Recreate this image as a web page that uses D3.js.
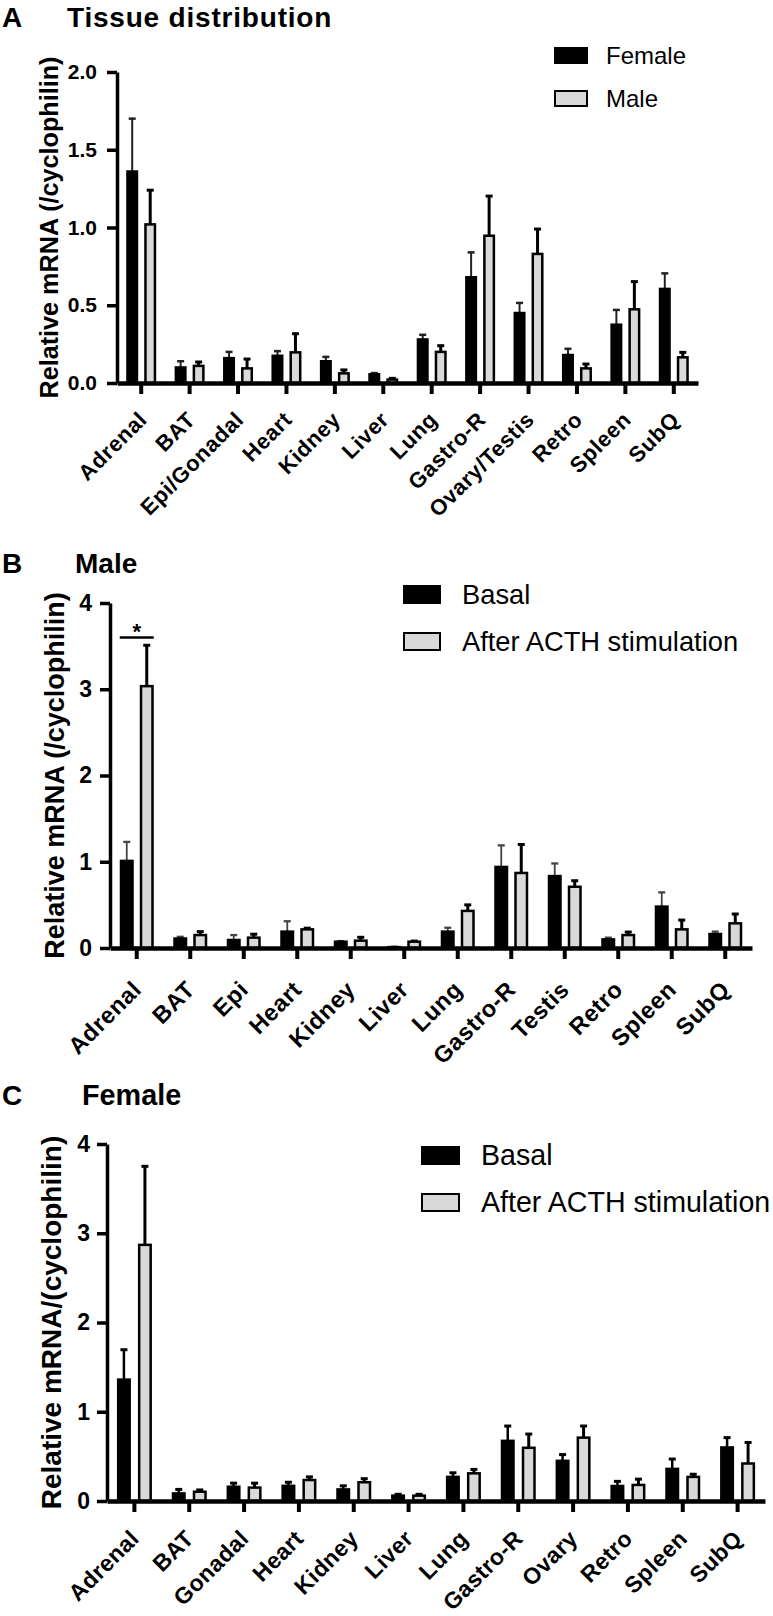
<!DOCTYPE html>
<html>
<head>
<meta charset="utf-8">
<script src="https://cdn.jsdelivr.net/npm/d3@7"></script>
<style>
  html, body { margin: 0; padding: 0; background: #fff; }
  svg { display: block; font-family: "Liberation Sans", Arial, Helvetica, sans-serif; }
</style>
</head>
<body>
<svg id="chart" width="773" height="1616"></svg>
<script>
// ---------------- DATA ----------------
const categoriesA = ["Adrenal","BAT","Epi/Gonadal","Heart","Kidney","Liver","Lung","Gastro-R","Ovary/Testis","Retro","Spleen","SubQ"];
const seriesA = ["Female","Male"];
const femaleA    = [1.36, 0.10, 0.16, 0.175, 0.14, 0.056, 0.28, 0.68, 0.45, 0.18, 0.375, 0.605];
const femaleAErr = [0.34, 0.04, 0.04, 0.03, 0.028, 0.008, 0.03, 0.16, 0.065, 0.04, 0.095, 0.10];
const maleA      = [1.02, 0.11, 0.094, 0.197, 0.062, 0.022, 0.20, 0.947, 0.83, 0.094, 0.474, 0.165];
const maleAErr   = [0.22, 0.025, 0.06, 0.12, 0.022, 0.008, 0.04, 0.255, 0.16, 0.028, 0.178, 0.032];
const ticksA = [0, 0.5, 1.0, 1.5, 2.0];

const categoriesB = ["Adrenal","BAT","Epi","Heart","Kidney","Liver","Lung","Gastro-R","Testis","Retro","Spleen","SubQ"];
const seriesBC = ["Basal","After ACTH stimulation"];
const basalB    = [1.01, 0.11, 0.093, 0.19, 0.073, 0.01, 0.19, 0.94, 0.834, 0.10, 0.48, 0.162];
const basalBErr = [0.22, 0.02, 0.057, 0.12, 0.007, 0.005, 0.045, 0.25, 0.146, 0.02, 0.165, 0.028];
const acthB     = [3.036, 0.15, 0.12, 0.216, 0.085, 0.073, 0.43, 0.87, 0.71, 0.15, 0.216, 0.286];
const acthBErr  = [0.474, 0.04, 0.04, 0.014, 0.039, 0.007, 0.07, 0.33, 0.07, 0.035, 0.108, 0.108];
const ticksBC = [0, 1, 2, 3, 4];
const sigB = { category: "Adrenal", level: 3.6, label: "*" };

const categoriesC = ["Adrenal","BAT","Gonadal","Heart","Kidney","Liver","Lung","Gastro-R","Ovary","Retro","Spleen","SubQ"];
const basalC    = [1.36, 0.085, 0.16, 0.17, 0.13, 0.06, 0.27, 0.674, 0.45, 0.168, 0.36, 0.60];
const basalCErr = [0.335, 0.045, 0.04, 0.04, 0.04, 0.015, 0.046, 0.166, 0.07, 0.052, 0.11, 0.11];
const acthC     = [2.87, 0.104, 0.15, 0.235, 0.21, 0.06, 0.31, 0.596, 0.71, 0.18, 0.27, 0.42];
const acthCErr  = [0.88, 0.02, 0.05, 0.035, 0.04, 0.015, 0.044, 0.154, 0.13, 0.065, 0.03, 0.236];

// ---------------- DRAW ----------------
const svg = d3.select("#chart");
const FILL = ["#000000", "#d9d9d9"];

function drawPanel(cfg) {
  const g = svg.append("g");
  const x = d3.scaleBand().domain(cfg.categories).range([cfg.x0, cfg.x1]);
  const y = d3.scaleLinear().domain([0, cfg.ymax]).range([cfg.yBottom, cfg.yTop]);
  const sub = d3.scalePoint().domain(cfg.series).range([-cfg.off, cfg.off]);

  // panel letter and title
  g.append("text").attr("x", cfg.letterX).attr("y", cfg.titleY)
    .attr("font-size", 28).attr("font-weight", "bold").text(cfg.letter);
  g.append("text").attr("x", cfg.titleX).attr("y", cfg.titleY)
    .attr("font-size", cfg.titleFont).attr("font-weight", "bold")
    .attr("letter-spacing", cfg.titleSpacing || 0).text(cfg.title);

  // bars
  const rows = [];
  cfg.series.forEach((s, si) => {
    cfg.categories.forEach((c, ci) => {
      rows.push({ c, s, si, v: cfg.values[si][ci], e: cfg.errors[si][ci] });
    });
  });
  const cx = d => x(d.c) + x.bandwidth() / 2 + sub(d.s);

  // error bars
  g.selectAll(".err").data(rows).enter().append("line")
    .attr("x1", cx).attr("x2", cx)
    .attr("y1", d => y(d.v)).attr("y2", d => y(d.v + d.e))
    .attr("stroke", d => d.si === 0 ? cfg.errCol0 : "#000")
    .attr("stroke-width", d => d.si === 0 ? cfg.errW0 : 3);
  g.selectAll(".cap").data(rows).enter().append("line")
    .attr("x1", d => cx(d) - 3.5).attr("x2", d => cx(d) + 3.5)
    .attr("y1", d => y(d.v + d.e)).attr("y2", d => y(d.v + d.e))
    .attr("stroke", d => d.si === 0 ? cfg.errCol0 : "#000")
    .attr("stroke-width", d => d.si === 0 ? cfg.errW0 + 0.5 : 3);

  g.selectAll(".bar").data(rows).enter().append("rect")
    .attr("x", d => cx(d) - cfg.bw / 2 + 1.25)
    .attr("width", cfg.bw - 2.5)
    .attr("y", d => y(d.v))
    .attr("height", d => Math.max(0, y(0) - y(d.v)))
    .attr("fill", d => FILL[d.si])
    .attr("stroke", "#000").attr("stroke-width", 2.5);

  // y axis
  const ya = g.append("g").attr("transform", `translate(${cfg.x0},0)`)
    .call(d3.axisLeft(y).tickValues(cfg.ticks).tickFormat(cfg.fmt).tickSize(10).tickSizeOuter(0).tickPadding(cfg.tickPad));
  ya.select(".domain").attr("stroke-width", 3.5);
  ya.selectAll(".tick line").attr("stroke-width", 3.5);
  ya.selectAll(".tick text").attr("font-size", cfg.tickFont).attr("font-weight", "bold")
    .attr("font-family", "Liberation Sans, Arial, sans-serif").attr("fill", "#000");

  // x axis
  const xa = g.append("g").attr("transform", `translate(0,${cfg.yBottom})`)
    .call(d3.axisBottom(x).tickSize(11).tickSizeOuter(0));
  xa.select(".domain").attr("stroke-width", 4.5);
  xa.selectAll(".tick line").attr("stroke-width", 4);
  xa.selectAll(".tick text")
    .attr("x", 0).attr("y", 0).attr("dy", 0)
    .attr("text-anchor", "end")
    .attr("transform", `translate(${cfg.labDx},${cfg.labDy}) rotate(-45)`)
    .attr("font-size", cfg.labFont).attr("font-weight", "bold")
    .attr("letter-spacing", cfg.labSpacing)
    .attr("font-family", "Liberation Sans, Arial, sans-serif").attr("fill", "#000");

  // y axis title
  g.append("text")
    .attr("transform", `translate(${cfg.ytX},${(cfg.yTop + cfg.yBottom) / 2}) rotate(-90)`)
    .attr("text-anchor", "middle").attr("font-size", cfg.ytFont).attr("font-weight", "bold")
    .text(cfg.yTitle);

  // legend
  cfg.series.forEach((s, si) => {
    const ly = cfg.legY + si * cfg.legGap;
    g.append("rect").attr("x", cfg.legX + 1).attr("y", ly - cfg.legH + 1)
      .attr("width", cfg.legW - 2).attr("height", cfg.legH - 2)
      .attr("fill", FILL[si]).attr("stroke", "#000").attr("stroke-width", 2);
    g.append("text").attr("x", cfg.legTextX).attr("y", ly)
      .attr("font-size", cfg.legFont).text(s);
  });

  // significance
  if (cfg.sig) {
    const c0 = x(cfg.sig.category) + x.bandwidth() / 2;
    const xl = c0 + sub(cfg.series[0]) - cfg.bw / 2;
    const xr = c0 + sub(cfg.series[1]) + cfg.bw / 2;
    g.append("line").attr("x1", xl).attr("x2", xr)
      .attr("y1", y(cfg.sig.level)).attr("y2", y(cfg.sig.level))
      .attr("stroke", "#000").attr("stroke-width", 2.5);
    g.append("text").attr("x", (xl + xr) / 2).attr("y", y(cfg.sig.level) + 1)
      .attr("text-anchor", "middle").attr("font-size", 22).attr("font-weight", "bold")
      .text(cfg.sig.label);
  }
}

drawPanel({
  letter: "A", title: "Tissue distribution", letterX: 2, titleX: 67, titleY: 27, titleFont: 28, titleSpacing: 0.8,
  categories: categoriesA, series: seriesA,
  values: [femaleA, maleA], errors: [femaleAErr, maleAErr],
  x0: 117, x1: 698, yTop: 72, yBottom: 383, ymax: 2.0, ticks: ticksA, fmt: d3.format(".1f"),
  off: 9, bw: 12, errCol0: "#222", errW0: 2,
  tickFont: 21, tickPad: 10, labFont: 22, labSpacing: 0.6, labDx: 7, labDy: 38,
  ytX: 58, ytFont: 25.2, yTitle: "Relative mRNA (/cyclophilin)",
  legX: 554, legY: 64, legGap: 43, legW: 34, legH: 17, legTextX: 606, legFont: 24
});

drawPanel({
  letter: "B", title: "Male", letterX: 2, titleX: 75, titleY: 573, titleFont: 28,
  categories: categoriesB, series: seriesBC,
  values: [basalB, acthB], errors: [basalBErr, acthBErr],
  x0: 110, x1: 752, yTop: 603, yBottom: 948, ymax: 4, ticks: ticksBC, fmt: d3.format("d"),
  off: 10, bw: 14, errCol0: "#444", errW0: 1.8,
  tickFont: 23, tickPad: 8, labFont: 23.5, labSpacing: 0.6, labDx: 6, labDy: 43,
  ytX: 64, ytFont: 27, yTitle: "Relative mRNA (/cyclophilin)",
  legX: 403, legY: 604, legGap: 47, legW: 38, legH: 19, legTextX: 462, legFont: 27.3,
  sig: sigB
});

drawPanel({
  letter: "C", title: "Female", letterX: 2, titleX: 82, titleY: 1105, titleFont: 28.8,
  categories: categoriesC, series: seriesBC,
  values: [basalC, acthC], errors: [basalCErr, acthCErr],
  x0: 107, x1: 765, yTop: 1144, yBottom: 1501, ymax: 4, ticks: ticksBC, fmt: d3.format("d"),
  off: 10.5, bw: 14, errCol0: "#000", errW0: 2.5,
  tickFont: 23, tickPad: 7, labFont: 23, labSpacing: 0.4, labDx: 6, labDy: 39,
  ytX: 61, ytFont: 28, yTitle: "Relative mRNA/(cyclophilin)",
  legX: 421, legY: 1165, legGap: 47, legW: 39, legH: 19, legTextX: 481, legFont: 28.6
});
</script>
</body>
</html>
